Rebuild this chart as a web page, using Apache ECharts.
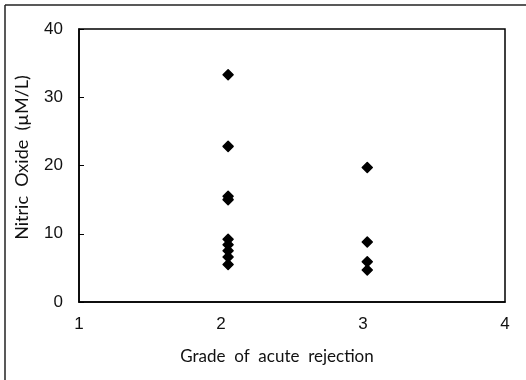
<!DOCTYPE html>
<html>
<head>
<meta charset="utf-8">
<script src="https://cdn.jsdelivr.net/npm/echarts@6/dist/echarts.min.js"></script>
<style>html,body{margin:0;padding:0;background:#fff;}#c{width:526px;height:380px;}</style>
</head>
<body>
<div id="c"></div>
<script>
var grade2X = [2.05, 2.05, 2.05, 2.05, 2.05, 2.05, 2.05, 2.05, 2.05];
var grade2Y = [33.3, 22.8, 15.5, 15.0, 9.2, 8.4, 7.5, 6.6, 5.5];
var grade3X = [3.03, 3.03, 3.03, 3.03];
var grade3Y = [19.7, 8.8, 5.9, 4.7];
var xTicks = [1, 2, 3, 4];
var yTicks = [0, 10, 20, 30, 40];
var xName = 'Grade  of  acute  rejection';
var yName = 'Nitric  Oxide  (µM/L)';

var pts = [];
grade2X.forEach(function (x, i) { pts.push([x, grade2Y[i]]); });
grade3X.forEach(function (x, i) { pts.push([x, grade3Y[i]]); });

var chart = echarts.init(document.getElementById('c'));
var font = 'Lato';
chart.setOption({
  animation: false,
  backgroundColor: '#fff',
  grid: { left: 79, right: 21, top: 29, bottom: 78, show: true, borderColor: '#000', borderWidth: 1.5 },
  xAxis: {
    type: 'value', min: xTicks[0], max: xTicks[xTicks.length - 1], interval: 1,
    name: xName, nameLocation: 'middle', nameGap: 46,
    nameTextStyle: { color: '#111', fontSize: 17, fontFamily: font, padding: [0, 30, 0, 0] },
    axisLine: { show: true, lineStyle: { color: '#000', width: 1.5 } },
    axisTick: { show: false },
    splitLine: { show: false },
    axisLabel: { color: '#111', fontSize: 17, fontFamily: 'Liberation Sans', margin: 14 }
  },
  yAxis: {
    type: 'value', min: yTicks[0], max: yTicks[yTicks.length - 1], interval: 10,
    name: yName, nameLocation: 'middle', nameGap: 48,
    nameTextStyle: { color: '#111', fontSize: 18, fontFamily: font, padding: [0, 0, 0, 16] },
    axisLine: { show: true, lineStyle: { color: '#000', width: 1.5 } },
    axisTick: { show: true, inside: true, length: 5, lineStyle: { color: '#000' } },
    splitLine: { show: false },
    axisLabel: { color: '#111', fontSize: 17, fontFamily: 'Liberation Sans', margin: 16 }
  },
  series: [{
    type: 'scatter', data: pts, symbol: 'diamond', symbolSize: 10,
    itemStyle: { color: '#000', opacity: 1, borderColor: '#000', borderWidth: 1.5, borderJoin: 'round' }
  }],
  graphic: [
    { type: 'line', shape: { x1: 5, y1: 5, x2: 526, y2: 5 }, style: { stroke: '#222', lineWidth: 1.5 } },
    { type: 'line', shape: { x1: 5, y1: 5, x2: 5, y2: 380 }, style: { stroke: '#222', lineWidth: 1.5 } }
  ]
});
</script>
</body>
</html>
